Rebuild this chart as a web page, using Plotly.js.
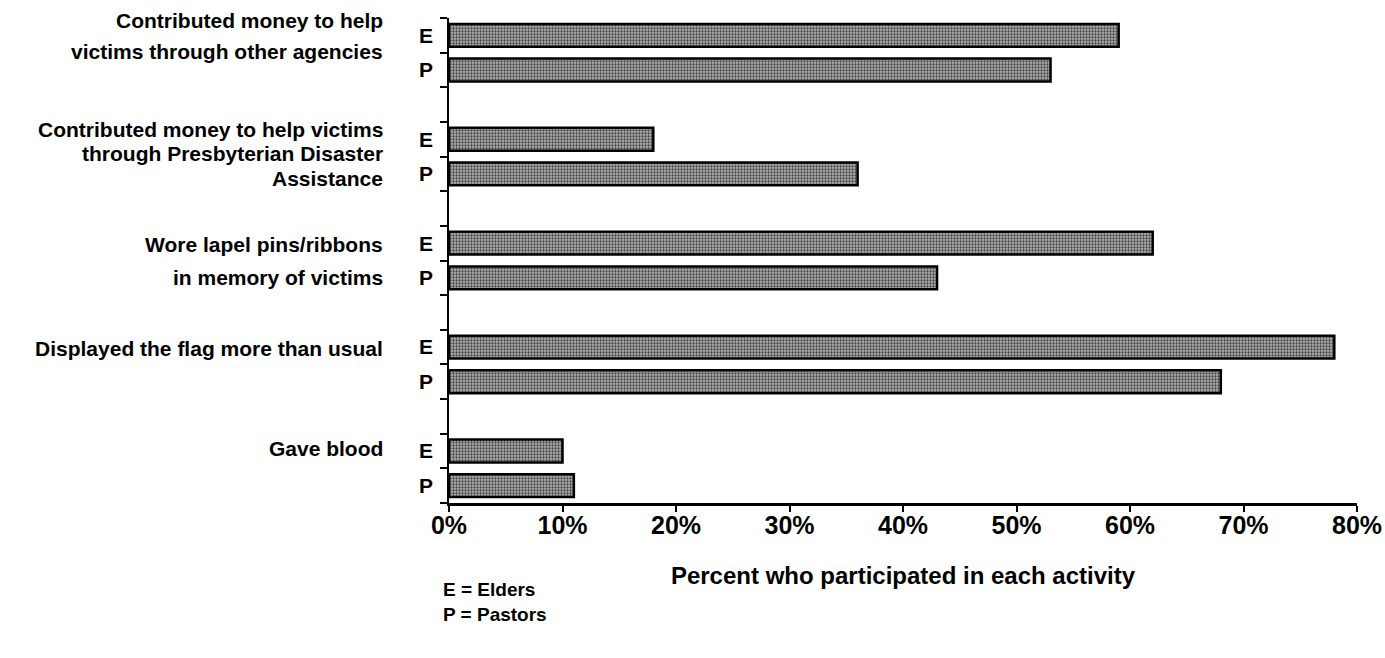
<!DOCTYPE html>
<html>
<head>
<meta charset="utf-8">
<script src="https://cdn.plot.ly/plotly-3.0.1.min.js"></script>
<style>html,body{margin:0;padding:0;background:#fff;}#chart{width:1385px;height:658px;}</style>
</head>
<body>
<div id="chart"></div>
<script>
// ---- data ----
var categories = [
  "Contributed money to help<br>victims through other agencies",
  "Contributed money to help victims<br>through Presbyterian Disaster<br>Assistance",
  "Wore lapel pins/ribbons<br>in memory of victims",
  "Displayed the flag more than usual",
  "Gave blood"
];
var elders  = [59, 18, 62, 78, 10];
var pastors = [53, 36, 43, 68, 11];
var groupLabels = ["E", "P"];
var xTickVals = [0, 10, 20, 30, 40, 50, 60, 70, 80];
var xTickText = ["0%", "10%", "20%", "30%", "40%", "50%", "60%", "70%", "80%"];
var axisTitle = "Percent who participated in each activity";
var keyText = "E = Elders<br>P = Pastors";

// ---- layout helpers (slots: E, P, gap per category) ----
var FONT = "Liberation Sans, Arial, Helvetica, sans-serif";
var nSlots = categories.length * 3 - 1;
var ePos = categories.map(function (c, i) { return i * 3; });
var pPos = categories.map(function (c, i) { return i * 3 + 1; });
var boundaries = [];
for (var b = 0; b <= nSlots; b++) boundaries.push(b - 0.5);
var barPos = [], barText = [];
categories.forEach(function (c, i) {
  barPos.push(ePos[i], pPos[i]);
  barText.push(groupLabels[0], groupLabels[1]);
});
// label block centre (relative to E slot) and line pitch, in slot units
var labelCentre = [0.02, 0.42, 0.52, 0.03, -0.06];
var labelPitch  = [0.87, 0.70, 0.96, 0.8, 0.8];

var barMarker = {
  color: "#9a9a9a",
  line: { color: "#000", width: 2.5 },
  pattern: { shape: ".", fgcolor: "#444", bgcolor: "#b2b2b2", size: 3, solidity: 0.45 }
};

var traces = [
  { type: "bar", orientation: "h", x: elders, y: ePos, width: 0.66, marker: barMarker, hoverinfo: "x", showlegend: false },
  { type: "bar", orientation: "h", x: pastors, y: pPos, width: 0.66, marker: barMarker, hoverinfo: "x", showlegend: false }
];

var annotations = [];
categories.forEach(function (c, i) {
  var lines = c.split("<br>");
  lines.forEach(function (ln, k) {
    annotations.push({
      text: ln, xref: "paper", x: 0, xshift: -64, xanchor: "right", align: "right",
      yref: "y", y: ePos[i] + labelCentre[i] + (k - (lines.length - 1) / 2) * labelPitch[i],
      yanchor: "middle", showarrow: false,
      font: { family: FONT, size: 21, color: "#000", weight: "bold" }
    });
  });
});
annotations.push({
  text: keyText, xref: "paper", x: 0, xshift: -8, xanchor: "left", align: "left",
  yref: "paper", y: -0.152, yanchor: "top", showarrow: false,
  font: { family: FONT, size: 19, color: "#000", weight: "bold" }
});

var layout = {
  width: 1385, height: 658,
  margin: { l: 449, r: 28, t: 18, b: 155 },
  paper_bgcolor: "#fff", plot_bgcolor: "#fff",
  barmode: "overlay",
  showlegend: false,
  font: { family: FONT, color: "#000" },
  xaxis: {
    range: [0, 80], tickmode: "array", tickvals: xTickVals, ticktext: xTickText,
    ticks: "outside", ticklen: 6, tickwidth: 2, tickcolor: "#000",
    showline: true, linecolor: "#000", linewidth: 2.5,
    showgrid: false, zeroline: false, ticklabelstandoff: -8,
    tickfont: { family: FONT, size: 25, color: "#000", weight: "bold" },
    title: { text: axisTitle, standoff: 30, font: { family: FONT, size: 24, color: "#000", weight: "bold" } }
  },
  yaxis: {
    range: [nSlots - 0.5, -0.5], tickmode: "array", tickvals: boundaries,
    ticktext: boundaries.map(function () { return ""; }),
    ticks: "outside", ticklen: 7, tickwidth: 2, tickcolor: "#000",
    showline: true, linecolor: "#000", linewidth: 2.5,
    showgrid: false, zeroline: false
  },
  yaxis2: {
    overlaying: "y", side: "left", range: [nSlots - 0.5, -0.5],
    tickmode: "array", tickvals: barPos, ticktext: barText,
    ticks: "", showline: false, showgrid: false, zeroline: false,
    ticklabelstandoff: 15,
    tickfont: { family: FONT, size: 21, color: "#000", weight: "bold" }
  },
  annotations: annotations
};

// invisible trace to activate yaxis2
traces.push({ type: "scatter", x: [0], y: [0], yaxis: "y2", mode: "markers", marker: { opacity: 0 }, hoverinfo: "skip", showlegend: false });

Plotly.newPlot("chart", traces, layout, { displayModeBar: false, staticPlot: true });
</script>
</body>
</html>
